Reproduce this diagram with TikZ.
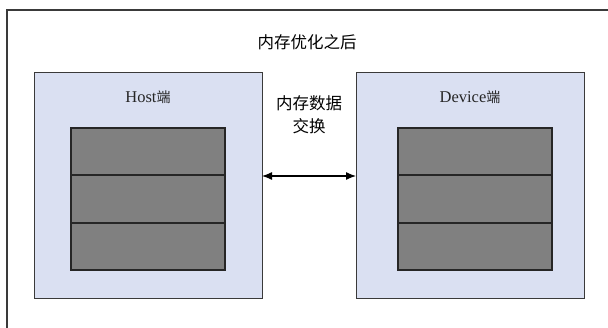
\documentclass[tikz,border=0pt]{standalone}
\usepackage{fontspec}
\setmainfont{Liberation Serif}
\newfontfamily\cjk{Noto Sans CJK SC}
\usepackage{xcolor}
\usetikzlibrary{arrows.meta,positioning}

\definecolor{sidefill}{HTML}{DAE0F2}
\definecolor{cellfill}{HTML}{808080}
\definecolor{edgegray}{HTML}{3A3A3A}

\tikzset{
	side/.style={draw=edgegray, line width=1pt, fill=sidefill, minimum width=228pt, minimum height=226pt, inner sep=0pt, outer sep=0pt},
	cell/.style={draw=black!85, line width=1.5pt, fill=cellfill, minimum width=154pt, minimum height=47.3pt, inner sep=0pt, outer sep=0pt},
	divider/.style={draw=black!85, line width=1.8pt},
	label/.style={font=\fontsize{16.5}{20}\selectfont, text=black!85},
	heading/.style={font=\fontsize{16.5}{23}\selectfont\cjk, text=black}
}

\begin{document}
\begin{tikzpicture}[x=1pt,y=-1pt]
		\useasboundingbox (0,0) rectangle (608,328);
		\clip (0,0) rectangle (608,328);
		\fill[white] (0,0) rectangle (608,328);

		% outer frame, runs off to the right and bottom
		\draw[edgegray, line width=1.4pt] (7,10) rectangle (640,360);
		\node[heading] (title) at (307,42) {内存优化之后};

		% the two sides
		\node[side] (host) at (148,186) {};
		\node[side] (dev) at (470,186) {};
		\node[label] (hostlbl) at (148,97) {Host{\cjk\fontsize{14}{16}\selectfont 端}};
		\node[label] (devlbl) at (470,97) {Device{\cjk\fontsize{14}{16}\selectfont 端}};

		% memory blocks on each side
		\node[cell] (h1) at (148,151.7) {};
		\node[cell, below=0pt of h1] (h2) {};
		\node[cell, below=0pt of h2] (h3) {};
		\node[cell] (d1) at (475,151.7) {};
		\node[cell, below=0pt of d1] (d2) {};
		\node[cell, below=0pt of d2] (d3) {};
		\foreach \b in {h1,h2,d1,d2}
			\draw[divider] (\b.south west) -- (\b.south east);

		% exchange between host and device
		\draw[{Latex[length=10pt,width=8pt]}-{Latex[length=10pt,width=8pt]}, line width=1.2pt]
			([yshift=10pt]host.east) -- ([yshift=10pt]dev.west);
		\node[heading, align=center] (swap) at (309,115) {内存数据\\交换};
	\end{tikzpicture}
\end{document}
